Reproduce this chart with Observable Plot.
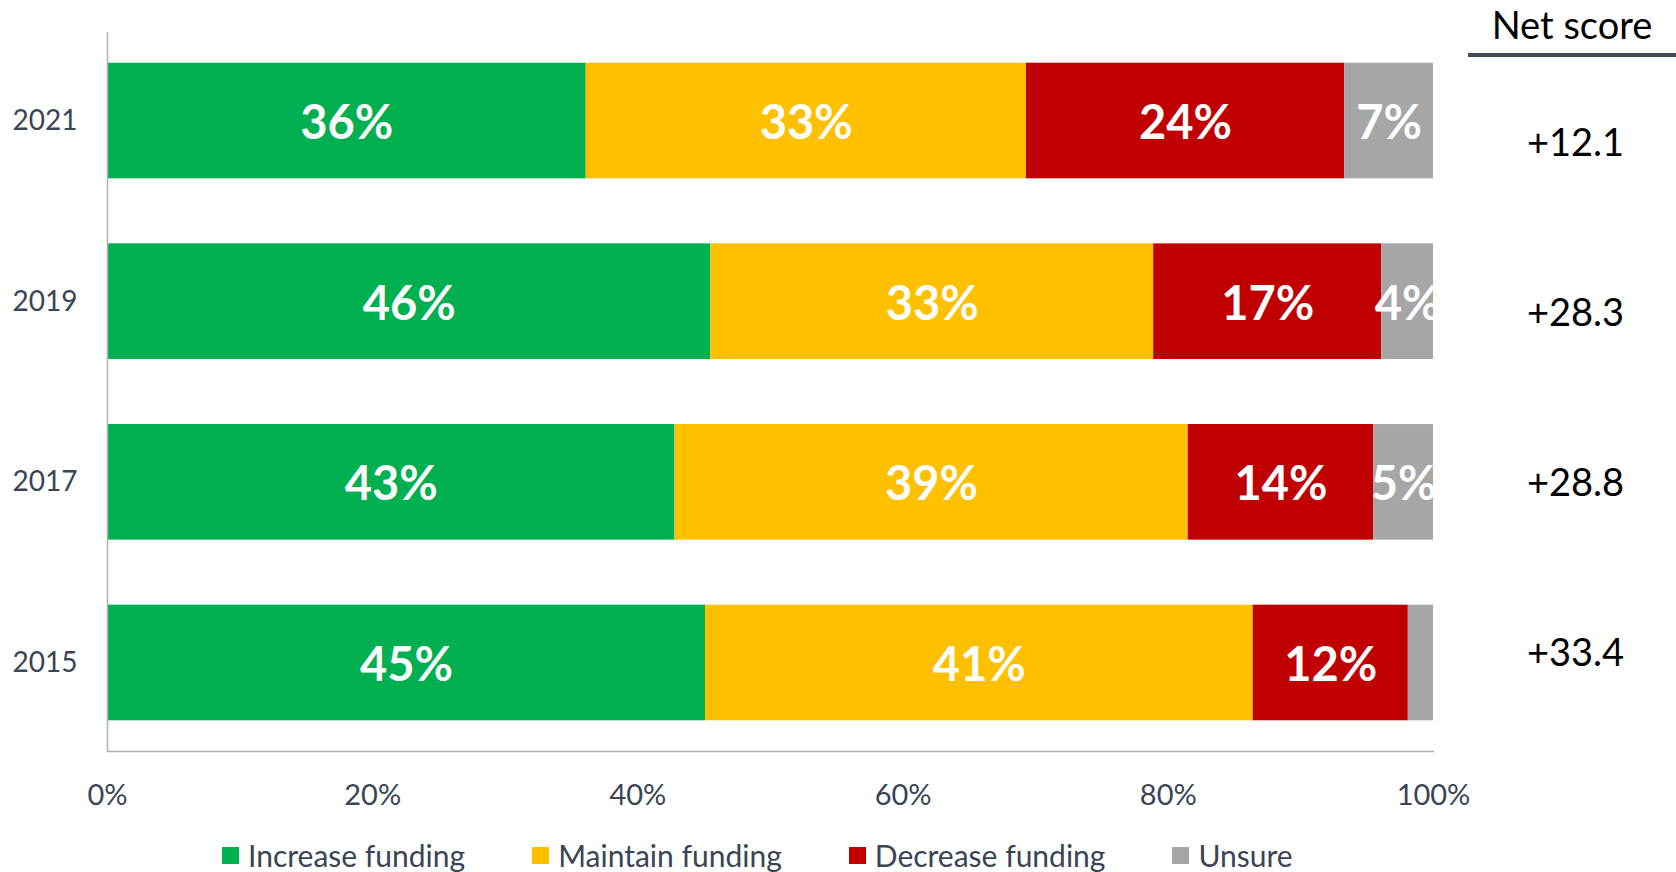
<!DOCTYPE html>
<html><head><meta charset="utf-8">
<script src="https://cdn.jsdelivr.net/npm/d3@7"></script>
<script src="https://cdn.jsdelivr.net/npm/@observablehq/plot@0.6"></script>
<style>
body{margin:0;background:#fff;font-family:Lato,sans-serif;}
#wrap{position:relative;width:1676px;height:872px;overflow:hidden;background:#fff;}
#main{position:absolute;left:0;top:0;}
#net{position:absolute;left:1468px;top:0;}
#header{position:absolute;left:1468px;top:0;width:208px;height:53px;line-height:48px;text-align:center;font-size:38px;color:#000;border-bottom:4px solid #3f4a5c;}
#legend{position:absolute;left:222px;top:835px;height:40px;display:flex;align-items:center;font-size:30px;color:#3a4454;}
#legend .item{display:flex;align-items:center;margin-right:67px;}
#legend .sw{width:17px;height:17px;margin-right:9px;}
</style></head><body>
<div id="wrap">
  <div id="main"></div>
  <div id="net"></div>
  <div id="header">Net score</div>
  <div id="legend"></div>
</div>
<script>
const years = ["2021","2019","2017","2015"];
const categories = ["Increase funding","Maintain funding","Decrease funding","Unsure"];
const colors = ["#00b050","#ffc000","#c00000","#a6a6a6"];
const increase = [36.1, 45.5, 42.8, 45.1];
const maintain = [33.2, 33.4, 38.7, 41.3];
const decrease = [24.0, 17.2, 14.0, 11.7];
const unsure   = [6.7, 3.9, 4.5, 1.9];
const netScores = ["+12.1","+28.3","+28.8","+33.4"];
const xTicks = [0, 20, 40, 60, 80, 100];

const series = [increase, maintain, decrease, unsure];
const data = [];
years.forEach((yr, i) => {
  categories.forEach((cat, j) => data.push({year: yr, cat, value: series[j][i]}));
});

const axisColor = "#3a4454";
const main = Plot.plot({
  width: 1676, height: 830,
  marginLeft: 107, marginRight: 243, marginTop: 32, marginBottom: 79,
  style: {fontFamily: "Lato, sans-serif", background: "#fff", overflow: "visible"},
  x: {domain: [0, 100], label: null},
  y: {domain: years, paddingInner: 0.36, paddingOuter: 0.17, round: false, label: null},
  color: {domain: categories, range: colors},
  marks: [
    Plot.barX(data, {x: "value", y: "year", fill: "cat"}),
    Plot.text(data, Plot.stackX({
      x: "value", y: "year", z: "cat",
      text: d => d.value >= 3 ? Math.round(d.value) + "%" : null,
      fill: "white", fontSize: 47, fontWeight: "bold", dy: 3, clip: true
    })),
    Plot.ruleX([0], {stroke: "#b0b0b0", strokeWidth: 1.5}),
    Plot.frame({anchor: "bottom", stroke: "#b0b0b0", strokeWidth: 1.5}),
    Plot.axisX({ticks: xTicks, tickFormat: d => d + "%", tickSize: 0, tickPadding: 33, fontSize: 29, color: axisColor, label: null}),
    Plot.axisY({tickSize: 0, tickPadding: 30, fontSize: 28, color: axisColor, label: null})
  ]
});
document.getElementById("main").appendChild(main);

const net = Plot.plot({
  width: 208, height: 830,
  marginTop: 142, marginBottom: 176, marginLeft: 0, marginRight: 0,
  style: {fontFamily: "Lato, sans-serif", background: "transparent"},
  y: {type: "point", domain: years, padding: 0, axis: null},
  marks: [
    Plot.text(years, {y: d => d, text: (d, i) => netScores[i], frameAnchor: "middle", dx: 3, fontSize: 38, fill: "#000"})
  ]
});
document.getElementById("net").appendChild(net);

const legend = document.getElementById("legend");
categories.forEach((cat, j) => {
  const item = document.createElement("div");
  item.className = "item";
  const sw = document.createElement("span");
  sw.className = "sw";
  sw.style.background = colors[j];
  const t = document.createElement("span");
  t.textContent = cat;
  item.appendChild(sw); item.appendChild(t);
  legend.appendChild(item);
});
</script>
</body></html>
